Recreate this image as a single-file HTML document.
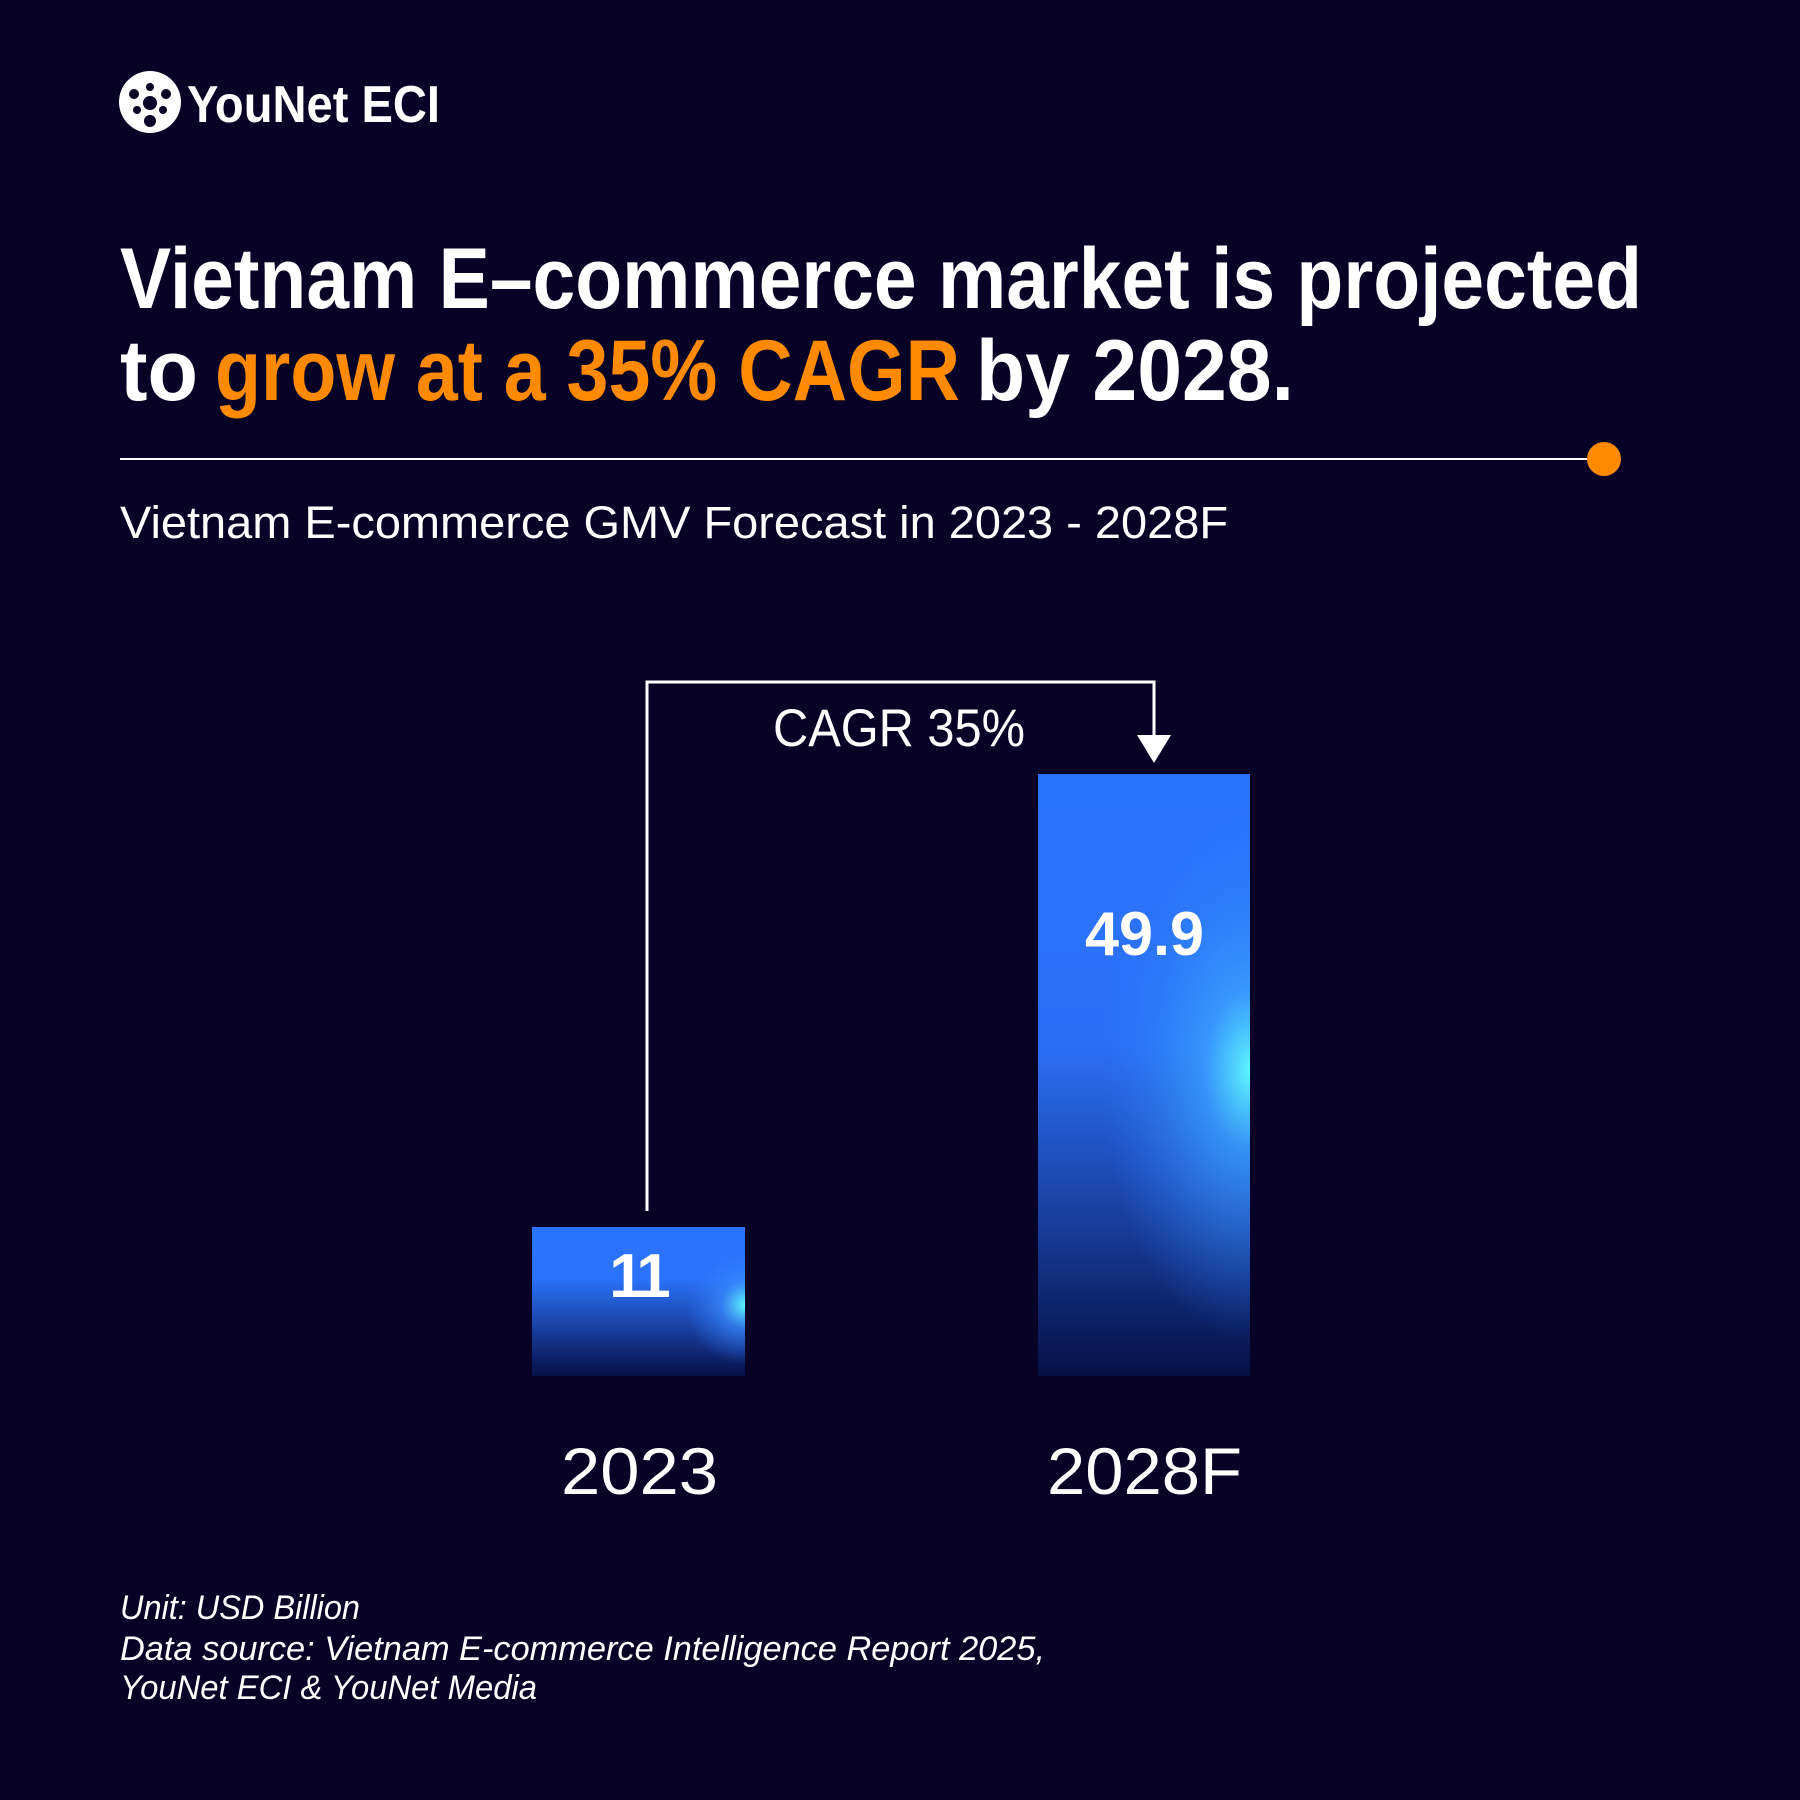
<!DOCTYPE html>
<html><head><meta charset="utf-8"><style>
html,body{margin:0;padding:0;background:#070226;}
svg{display:block;}
text{font-family:"Liberation Sans",sans-serif;fill:#fff;}
</style></head><body>
<svg width="1800" height="1800" viewBox="0 0 1800 1800" xmlns="http://www.w3.org/2000/svg">
<defs>
<linearGradient id="g1" x1="0" y1="0" x2="0" y2="1">
<stop offset="0" stop-color="#2a74fb"/><stop offset="0.35" stop-color="#2a72f8"/><stop offset="0.65" stop-color="#1a44a8"/><stop offset="1" stop-color="#061048"/>
</linearGradient>
<linearGradient id="g2" x1="0" y1="0" x2="0" y2="1">
<stop offset="0" stop-color="#2a74fb"/><stop offset="0.45" stop-color="#2a70f5"/><stop offset="0.7" stop-color="#1b45aa"/><stop offset="1" stop-color="#061045"/>
</linearGradient>
<radialGradient id="glow2" cx="1250" cy="1070" r="150" gradientUnits="userSpaceOnUse" gradientTransform="translate(1250 1070) scale(1 1.8) translate(-1250 -1070)">
<stop offset="0" stop-color="#5ff8ff"/><stop offset="0.3" stop-color="#3aa0ff" stop-opacity="0.8"/><stop offset="1" stop-color="#2a74fb" stop-opacity="0"/>
</radialGradient>
<radialGradient id="glow1" cx="745" cy="1305" r="60" gradientUnits="userSpaceOnUse">
<stop offset="0" stop-color="#5ff8ff"/><stop offset="0.4" stop-color="#3a8cff" stop-opacity="0.7"/><stop offset="1" stop-color="#2a74fb" stop-opacity="0"/>
</radialGradient>
</defs>
<rect width="1800" height="1800" fill="#070226"/>
<circle cx="150" cy="102" r="31" fill="#fff"/>
<g fill="#070226">
<circle cx="150" cy="103" r="7"/><circle cx="134" cy="94" r="5"/><circle cx="166" cy="94" r="5"/>
<circle cx="150" cy="87" r="4"/><circle cx="137" cy="110" r="4"/><circle cx="163" cy="110" r="4"/><circle cx="150" cy="121" r="6"/>
</g>
<text x="187" y="122" font-size="52" font-weight="bold" textLength="253" lengthAdjust="spacingAndGlyphs">YouNet ECI</text>
<text x="120" y="308" font-size="86" font-weight="bold" textLength="1522" lengthAdjust="spacingAndGlyphs">Vietnam E–commerce market is projected</text>
<text x="120" y="400" font-size="86" font-weight="bold" textLength="78" lengthAdjust="spacingAndGlyphs">to</text>
<text x="215" y="400" font-size="86" font-weight="bold" style="fill:#ff8a00" textLength="745" lengthAdjust="spacingAndGlyphs">grow at a 35% CAGR</text>
<text x="976" y="400" font-size="86" font-weight="bold" textLength="318" lengthAdjust="spacingAndGlyphs">by 2028.</text>
<line x1="120" y1="459" x2="1600" y2="459" stroke="#fff" stroke-width="2"/>
<circle cx="1604" cy="459" r="17" fill="#ff8a00"/>
<text x="120" y="538" font-size="45" textLength="1108" lengthAdjust="spacingAndGlyphs">Vietnam E-commerce GMV Forecast in 2023 - 2028F</text>
<rect x="532" y="1227" width="213" height="149" fill="url(#g1)"/>
<rect x="532" y="1227" width="213" height="149" fill="url(#glow1)"/>
<rect x="1038" y="774" width="212" height="602" fill="url(#g2)"/>
<rect x="1038" y="774" width="212" height="602" fill="url(#glow2)"/>
<polyline points="647,1211 647,682 1154,682 1154,740" fill="none" stroke="#fff" stroke-width="3"/>
<polygon points="1137,735 1171,735 1154,763" fill="#fff"/>
<text x="773" y="746" font-size="53" textLength="252" lengthAdjust="spacingAndGlyphs">CAGR 35%</text>
<text x="1085" y="955" font-size="62" font-weight="bold" textLength="119" lengthAdjust="spacingAndGlyphs">49.9</text>
<text x="638" y="1297" font-size="62" font-weight="bold" text-anchor="middle" letter-spacing="-4">11</text>
<text x="561" y="1494" font-size="66" textLength="157" lengthAdjust="spacingAndGlyphs">2023</text>
<text x="1047" y="1494" font-size="66" textLength="195" lengthAdjust="spacingAndGlyphs">2028F</text>
<text x="120" y="1619" font-size="34" font-style="italic" textLength="240" lengthAdjust="spacingAndGlyphs">Unit: USD Billion</text>
<text x="120" y="1660" font-size="34" font-style="italic" textLength="925" lengthAdjust="spacingAndGlyphs">Data source: Vietnam E-commerce Intelligence Report 2025,</text>
<text x="120" y="1699" font-size="34" font-style="italic" textLength="417" lengthAdjust="spacingAndGlyphs">YouNet ECI &amp; YouNet Media</text>
</svg>
</body></html>
